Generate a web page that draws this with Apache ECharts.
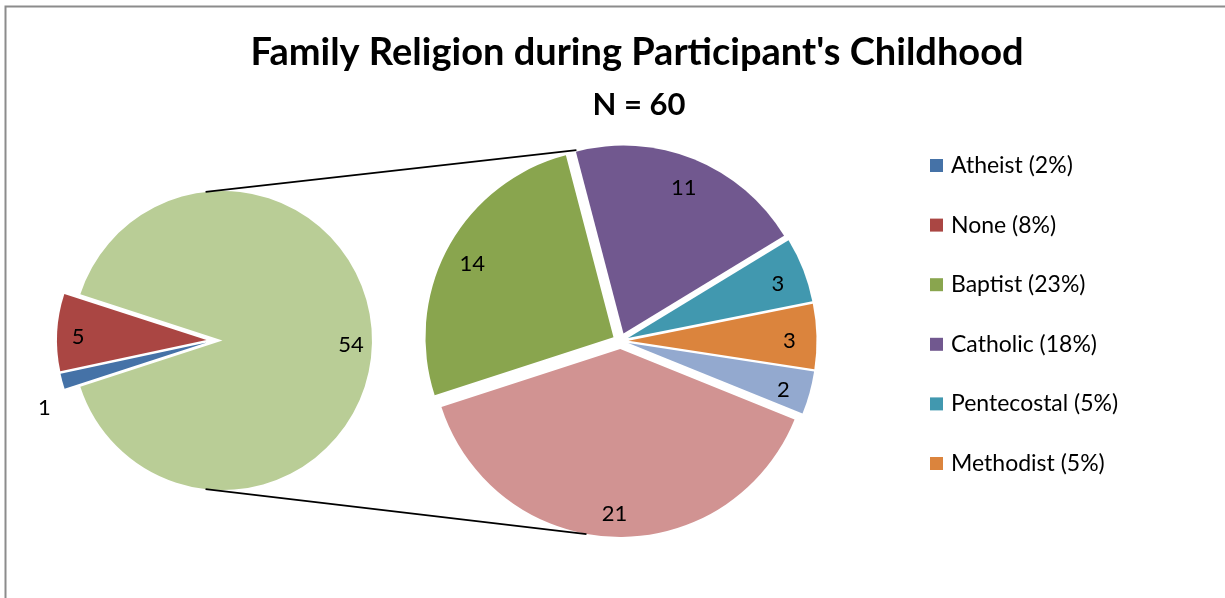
<!DOCTYPE html>
<html>
<head>
<meta charset="utf-8">
<script src="https://cdn.jsdelivr.net/npm/echarts@6/dist/echarts.min.js"></script>
<style>
  html, body { margin: 0; padding: 0; background: #fff; }
  #chart { width: 1225px; height: 598px; }
</style>
</head>
<body>
<div id="chart"></div>
<script>
// Counts of family religion; the church denominations are split off into a second pie.
const mainNames = ['Atheist', 'None'];
const mainValues = [1, 5];
const detailNames = ['Baptist', 'Catholic', 'Pentecostal', 'Methodist', 'Other', 'Christian'];
const detailValues = [14, 11, 3, 3, 2, 21];
const legendNames = ['Atheist', 'None', 'Baptist', 'Catholic', 'Pentecostal', 'Methodist'];
const mainColors = ['#4572A7', '#AA4643'];
const groupColor = '#B9CD96';
const detailColors = ['#89A54E', '#71588F', '#4198AF', '#DB843D', '#93A9CF', '#D19392'];
const titleText = "Family Religion during Participant's Childhood";

const sum = a => a.reduce((s, v) => s + v, 0);
const groupValue = sum(detailValues);
const total = sum(mainValues) + groupValue;

// Both pies share the angle of the first slice: the small slices sit centred on the left.
const startAngle = 180 + (sum(mainValues) / total * 360) / 2;

const FONT = 'Lato';
const explode = 8;
const left = { cx: 214.5, cy: 340.5, r: 149.5 };
const right = { cx: 620.5, cy: 341, r: 188 };

const valueOf = {};
mainNames.forEach((n, i) => valueOf[n] = mainValues[i]);
detailNames.forEach((n, i) => valueOf[n] = detailValues[i]);

const mainData = mainNames.map((n, i) => ({ name: n, value: mainValues[i], selected: true, itemStyle: { color: mainColors[i] } }))
  .concat([{ name: 'Religious', value: groupValue, selected: true, itemStyle: { color: groupColor } }]);
const detailData = detailNames.map((n, i) => ({ name: n, value: detailValues[i], selected: true, itemStyle: { color: detailColors[i] } }));

function pieBase(geom, data) {
  return {
    type: 'pie',
    center: [geom.cx, geom.cy],
    startAngle: startAngle,
    clockwise: true,
    selectedMode: 'multiple',
    selectedOffset: explode,
    avoidLabelOverlap: false,
    animation: false,
    silent: true,
    emphasis: { disabled: true },
    data: data
  };
}

// Transparent ring over each pie that carries the value labels near the rim.
function labelRing(geom, data, outsideIndex) {
  const s = pieBase(geom, data.map((d, i) => {
    const item = { name: d.name, value: d.value, selected: true, itemStyle: { color: 'rgba(0,0,0,0)' } };
    if (i === outsideIndex) {
      item.label = { position: 'outside' };
      item.labelLine = { show: false, length: 12, length2: 0 };
    }
    return item;
  }));
  s.radius = [geom.r * 0.68, geom.r];
  s.label = {
    show: true, position: 'inside', formatter: '{c}',
    color: '#000', fontFamily: FONT, fontSize: 22, textBorderWidth: 0
  };
  s.labelLine = { show: false };
  s.z = 5;
  s.labelLayout = p => (p.dataIndex === outsideIndex ? { dx: 5, dy: 24 } : { dy: 4 });
  return s;
}

const leftPie = Object.assign(pieBase(left, mainData), { radius: left.r, label: { show: false }, labelLine: { show: false } });
const rightPie = Object.assign(pieBase(right, detailData), { radius: right.r, label: { show: false }, labelLine: { show: false } });

// Connector lines between the grouped slice and the second pie.
function onCircle(cx, cy, r, deg) {
  const a = deg * Math.PI / 180;
  return [cx + r * Math.cos(a), cy - r * Math.sin(a)];
}
const lcx = left.cx + explode;
const connectors = [[96.5, 103], [263.5, 260]].map(([la, ra]) => {
  const p1 = onCircle(lcx, left.cy, left.r, la);
  const p2 = onCircle(right.cx, right.cy, right.r + explode, ra);
  return {
    type: 'line', z: 10, silent: true,
    shape: { x1: p1[0], y1: p1[1], x2: p2[0], y2: p2[1] },
    style: { stroke: '#000', lineWidth: 1.8 }
  };
});

const chart = echarts.init(document.getElementById('chart'), null, { renderer: 'canvas' });
chart.setOption({
  backgroundColor: '#fff',
  animation: false,
  title: [
    {
      text: titleText, left: 632, top: 29, textAlign: 'center',
      textStyle: { fontFamily: FONT, fontWeight: 'bold', fontSize: 38, color: '#000' }
    },
    {
      text: 'N = ' + total, left: 634, top: 84, textAlign: 'center',
      textStyle: { fontFamily: FONT, fontWeight: 'bold', fontSize: 31, color: '#000' }
    }
  ],
  legend: {
    orient: 'vertical', left: 925, top: 149,
    data: legendNames, icon: 'rect', itemWidth: 13, itemHeight: 13, itemGap: 36.6,
    selectedMode: false,
    formatter: n => n + ' (' + Math.round(valueOf[n] / total * 100) + '%)',
    textStyle: { fontFamily: FONT, fontSize: 23, color: '#000', lineHeight: 20, padding: [0, 0, 0, 3] }
  },
  graphic: [
    {
      type: 'rect', silent: true, z: -1,
      shape: { x: 5.5, y: 6.5, width: 1400, height: 800 },
      style: { fill: 'none', stroke: '#8c8c8c', lineWidth: 2 }
    }
  ].concat(connectors),
  series: [leftPie, rightPie, labelRing(left, mainData, 0), labelRing(right, detailData, null)]
});
</script>
</body>
</html>
